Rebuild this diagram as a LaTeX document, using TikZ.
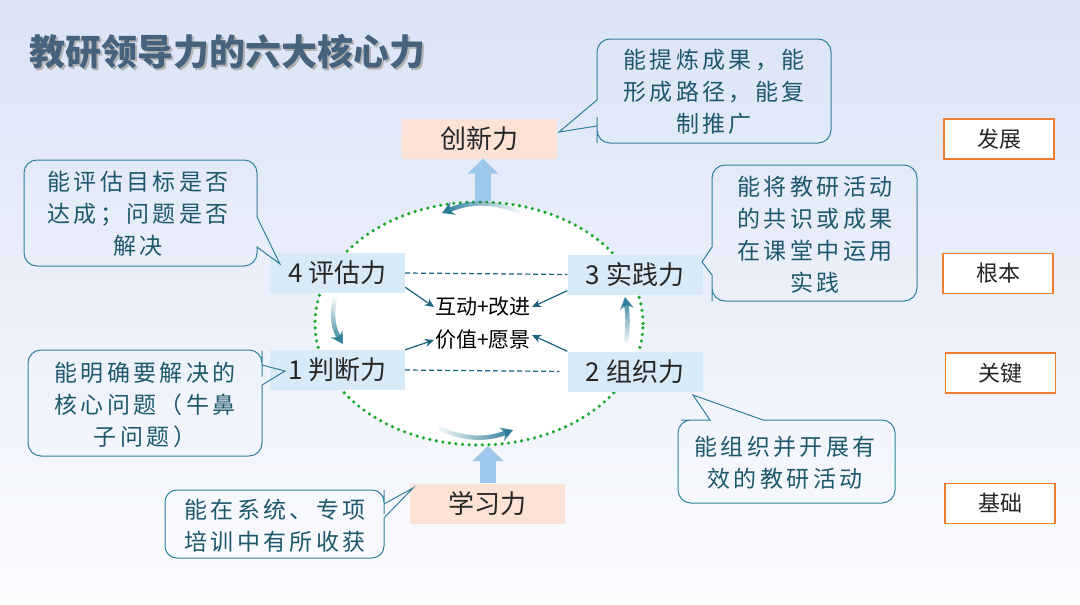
\documentclass[tikz,border=0pt]{standalone}
\usepackage{fontspec}
\setmainfont{Noto Sans CJK SC}
\newfontfamily\callfont{Noto Sans CJK SC}[LetterSpace=15]
\usetikzlibrary{arrows.meta,positioning,shapes.geometric,fadings}

\definecolor{bgtop}{RGB}{219,227,245}
\definecolor{bgbot}{RGB}{251,252,254}
\definecolor{peach}{RGB}{252,226,212}
\definecolor{skybox}{RGB}{216,233,247}
\definecolor{bigblue}{RGB}{157,200,235}
\definecolor{labelorange}{RGB}{237,125,49}
\definecolor{callline}{RGB}{49,128,155}
\definecolor{calltext}{RGB}{30,88,108}
\definecolor{linkteal}{RGB}{28,96,128}
\definecolor{flowteal}{RGB}{38,122,150}
\definecolor{ringgreen}{RGB}{30,170,50}
\definecolor{titlecol}{RGB}{70,98,124}

\begin{document}
\begin{tikzpicture}[x=1pt,y=-1pt,
    powerbox/.style={fill=skybox,minimum width=135pt,minimum height=40pt,inner sep=0pt,
        font=\fontsize{26}{30}\selectfont,text=black!85},
    growbox/.style={powerbox,fill=peach,minimum width=155pt},
    levelbox/.style={draw=labelorange,line width=1.6pt,fill=white,minimum width=110pt,
        minimum height=40pt,inner sep=0pt,font=\fontsize{22}{26}\selectfont,text=black!85},
    notetext/.style={align=center,text=calltext,inner sep=0pt,
        font=\callfont\fontsize{23}{32}\selectfont},
    bubbleline/.style={draw=callline,line width=1pt},
    linkarrow/.style={draw=linkteal,line width=1.2pt,-{Stealth[length=9pt,width=8pt]}},
    tieline/.style={draw=linkteal,line width=1.2pt,dash pattern=on 5pt off 3pt},
    flowarrow/.style={draw=flowteal,line width=4.5pt,-{Stealth[length=12pt,width=14pt]}},
    bigarrow/.style={draw=bigblue,line width=16pt,-{Triangle[length=15pt,width=30pt]}}]

% background and frame
\fill[top color=bgtop,bottom color=bgbot] (0,0) rectangle (1080,605);
\useasboundingbox (0,0) rectangle (1080,605);

% title
\node[anchor=west,text=black!30,font=\bfseries\fontsize{36}{40}\selectfont] (titleshadow) at (28,54) {教研领导力的六大核心力};
\node[anchor=west,text=titlecol,font=\bfseries\fontsize{36}{40}\selectfont] (title) at (26,52) {教研领导力的六大核心力};

% dotted ring
\node[ellipse,draw=ringgreen,fill=white,line width=3.6pt,dash pattern=on 0pt off 6.6pt,line cap=round,
    minimum width=328pt,minimum height=243pt,inner sep=0pt] (ring) at (479,323.5) {};

% the six powers
\node[growbox] (innov) at (479.5,138.5) {创新力};
\node[powerbox] (eval) at (337.5,273) {4 评估力};
\node[powerbox] (pract) at (635,274.5) {3 实践力};
\node[powerbox] (judge) at (337.5,370) {1 判断力};
\node[powerbox] (org) at (635,371.5) {2 组织力};
\node[growbox] (learn) at (487.5,503.5) {学习力};

\node[font=\fontsize{21}{24}\selectfont,inner sep=1pt] (inter) at (483,307) {互动+改进};
\node[font=\fontsize{21}{24}\selectfont,inner sep=1pt] (value) at (483,340) {价值+愿景};

% levels on the right
\node[levelbox] (develop) at (999,139) {发展};
\node[levelbox] (root) at (998,273.5) {根本};
\node[levelbox] (key) at (1000.5,373) {关键};
\node[levelbox] (base) at (1000,503.5) {基础};

% links inside the ring
\draw[tieline] (eval.east) -- (pract.west);
\draw[tieline,shorten >=8pt] (judge.east) -- (org.west);
\draw[linkarrow] ([yshift=6pt]eval.south east) -- (inter.west);
\draw[linkarrow] ([yshift=4pt]pract.south west) -- (inter.east);
\draw[linkarrow] (judge.north east) -- (value.west);
\draw[linkarrow] (org.north west) -- ([yshift=5pt]value.east);

% turning arrows
\coordinate (topA) at (521,212);
\coordinate (topB) at (442,213);
\coordinate (leftA) at (335,298);
\coordinate (leftB) at (343,344);
\coordinate (botA) at (438,428);
\coordinate (botB) at (513,430);
\coordinate (rightA) at (626,343);
\coordinate (rightB) at (625,297);
\draw[flowarrow,path fading=east] (topA) to[bend right=22] (topB);
\draw[flowarrow,path fading=north] (leftA) to[bend right=22] (leftB);
\draw[flowarrow,path fading=west] (botA) to[bend right=22] (botB);
\draw[flowarrow,path fading=south] (rightA) to[bend right=8] (rightB);

% big arrows
\coordinate (ctop) at (483,201);
\coordinate (cbot) at (488,446);
\draw[bigarrow] (ctop) -- (innov.south -| ctop);
\draw[bigarrow] (learn.north -| cbot) -- (cbot);

% callouts
\node[notetext] (nInnov) at (714,92) {能提炼成果，能\\形成路径，能复\\制推广};
\draw[bubbleline] (714,39) [rounded corners=13pt] -- (831,39) -- (831,143) -- (597,143) -- (597,130)
    [sharp corners] -- (597,126) -- (559,132) -- (597,100) -- (597,80) [rounded corners=13pt] -- (597,39) -- cycle;

\node[notetext] (nEval) at (138,214) {能评估目标是否\\达成；问题是否\\解决};
\draw[bubbleline] (140,160) [rounded corners=13pt] -- (257,160) -- (257,190)
    [sharp corners] -- (257,217) -- (280,264) -- (257,247) -- (257,252) [rounded corners=13pt] -- (257,266) -- (24,266) -- (24,160) -- cycle;

\node[notetext] (nPract) at (815,235) {能将教研活动\\的共识或成果\\在课堂中运用\\实践};
\draw[bubbleline] (814,165) [rounded corners=13pt] -- (917,165) -- (917,301) -- (712,301) -- (712,288)
    [sharp corners] -- (712,275) -- (702,262) -- (712,247) -- (712,220) [rounded corners=13pt] -- (712,165) -- cycle;

\node[notetext] (nJudge) at (145,405) {能明确要解决的\\核心问题（牛鼻\\子问题）};
\draw[bubbleline] (145,350) [rounded corners=13pt] -- (262,350) -- (262,363.5)
    [sharp corners] -- (262,365) -- (285,371) -- (262,385) -- (262,400) [rounded corners=13pt] -- (262,456) -- (28,456) -- (28,350) -- cycle;

\node[notetext] (nOrg) at (785,463) {能组织并开展有\\效的教研活动};
\draw[bubbleline] (678,461) [rounded corners=13pt] -- (678,420) -- (694,420)
    [sharp corners] -- (710,420) -- (693,395) -- (763,420) -- (800,420) [rounded corners=13pt] -- (895,420) -- (895,503) -- (678,503) -- cycle;

\node[notetext] (nLearn) at (275,526) {能在系统、专项\\培训中有所收获};
\draw[bubbleline] (275,490) [rounded corners=12pt] -- (384,490) -- (384,502)
    [sharp corners] -- (384,504) -- (413,488) -- (384,518) -- (384,535) [rounded corners=12pt] -- (384,558) -- (165,558) -- (165,490) -- cycle;

\end{tikzpicture}
\end{document}
